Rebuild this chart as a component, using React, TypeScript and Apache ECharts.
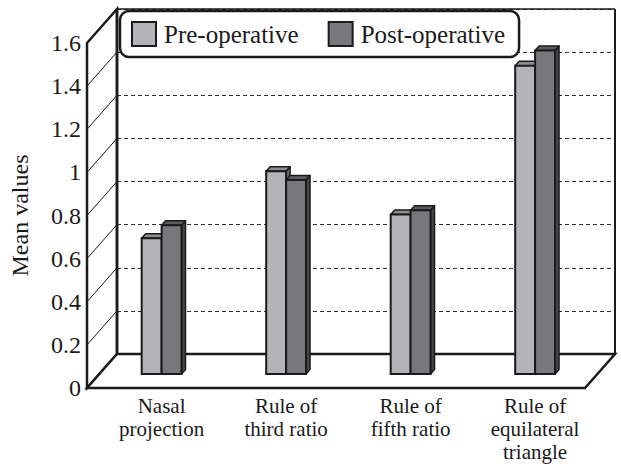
import React, { useEffect, useRef } from "react";
import * as echarts from "echarts";

const categories = [
  "Nasal\nprojection",
  "Rule of\nthird ratio",
  "Rule of\nfifth ratio",
  "Rule of\nequilateral\ntriangle",
];
const preValues = [0.63, 0.94, 0.74, 1.43];
const postValues = [0.69, 0.9, 0.76, 1.5];
const seriesNames = ["Pre-operative", "Post-operative"];
const yMin = 0;
const yMax = 1.6;
const yStep = 0.2;

// layout (pixels)
const CW = 621;
const CH = 466;
const FX0 = 87; // front plane left
const FY0 = 388; // front plane y of value 0
const PW = 498; // plane width
const PH = 345; // plane height (0..1.6)
const DX = 30; // depth offset x (front -> back)
const DY = -34; // depth offset y
const BAR_F = 14 / 34; // bar plane depth fraction from front

const FONT = "Liberation Serif";
const INK = "#1a1a1a";

const colors = {
  pre: { front: "#b4b4b8", top: "#8e8e92", side: "#6c6c70" },
  post: { front: "#78787c", top: "#5c5c60", side: "#464649" },
};

function gridAt(fx: number, fy: number) {
  return {
    left: fx,
    top: fy - PH,
    width: PW,
    height: PH,
    containLabel: false,
  };
}

function makeRender(which: "pre" | "post") {
  const c = colors[which];
  return (params: any, api: any) => {
    const idx = api.value(0);
    const v = api.value(1);
    const top = api.coord([idx, v]);
    const base = api.coord([idx, 0]);
    const band = api.size([1, 0])[0];
    const w = band * 0.16;
    const x0 = which === "pre" ? top[0] - w : top[0];
    const yT = top[1];
    const yB = base[1];
    const dx = 4;
    const dy = 4.5;
    return {
      type: "group",
      children: [
        {
          type: "polygon",
          shape: {
            points: [
              [x0 + w, yT],
              [x0 + w + dx, yT - dy],
              [x0 + w + dx, yB - dy],
              [x0 + w, yB],
            ],
          },
          style: { fill: c.side, stroke: INK, lineWidth: 1.5, lineJoin: "round" },
        },
        {
          type: "polygon",
          shape: {
            points: [
              [x0, yT],
              [x0 + dx, yT - dy],
              [x0 + w + dx, yT - dy],
              [x0 + w, yT],
            ],
          },
          style: { fill: c.top, stroke: INK, lineWidth: 1.5, lineJoin: "round" },
        },
        {
          type: "rect",
          shape: { x: x0, y: yT, width: w, height: yB - yT },
          style: { fill: c.front, stroke: INK, lineWidth: 2 },
        },
      ],
    };
  };
}

export default function App() {
  const ref = useRef<HTMLDivElement>(null);

  useEffect(() => {
    if (!ref.current) return;
    const chart = echarts.init(ref.current, null, { renderer: "svg" });

    const S = PH / (yMax - yMin);
    const bx = FX0 + DX; // back plane left
    const by = FY0 + DY; // back plane zero
    const barX = FX0 + DX * BAR_F;
    const barY = FY0 + DY * BAR_F;

    const graphics: any[] = [];
    // left side wall
    graphics.push({
      type: "polygon",
      z: 1,
      shape: {
        points: [
          [FX0, FY0 - PH],
          [bx, by - PH],
          [bx, by],
          [FX0, FY0],
        ],
      },
      style: { fill: "#ffffff", stroke: INK, lineWidth: 2.5, lineJoin: "miter" },
    });
    // diagonal tick lines on the side wall
    for (let v = yMin + yStep; v < yMax - 1e-9; v += yStep) {
      graphics.push({
        type: "line",
        z: 1,
        shape: { x1: FX0, y1: FY0 - v * S, x2: bx, y2: by - v * S },
        style: { stroke: INK, lineWidth: 1 },
      });
    }
    // floor
    graphics.push({
      type: "polygon",
      z: 1,
      shape: {
        points: [
          [FX0, FY0],
          [bx, by],
          [bx + PW, by],
          [FX0 + PW, FY0],
        ],
      },
      style: { fill: "#ffffff", stroke: INK, lineWidth: 2.5, lineJoin: "miter" },
    });
    // back wall edges
    graphics.push({
      type: "line",
      z: 1,
      shape: { x1: bx, y1: by - PH, x2: bx + PW, y2: by - PH },
      style: { stroke: INK, lineWidth: 1.5 },
    });
    graphics.push({
      type: "line",
      z: 1,
      shape: { x1: bx + PW, y1: by - PH, x2: bx + PW, y2: by },
      style: { stroke: INK, lineWidth: 2 },
    });
    graphics.push({
      type: "line",
      z: 1,
      shape: { x1: bx, y1: by - PH, x2: bx, y2: by },
      style: { stroke: INK, lineWidth: 2.5 },
    });

    const valueAxisBase = {
      type: "value",
      min: yMin,
      max: yMax,
      interval: yStep,
    };

    chart.setOption({
      animation: false,
      backgroundColor: "#ffffff",
      textStyle: { fontFamily: FONT, color: INK },
      grid: [gridAt(bx, by), gridAt(FX0, FY0), gridAt(barX, barY)],
      xAxis: [
        { type: "category", gridIndex: 0, data: categories, show: false },
        { type: "category", gridIndex: 1, data: categories, show: false },
        {
          type: "category",
          gridIndex: 2,
          data: categories,
          axisLine: { show: false },
          axisTick: { show: false },
          axisLabel: {
            interval: 0,
            margin: 20,
            fontFamily: FONT,
            fontSize: 21,
            lineHeight: 23,
            color: INK,
          },
        },
      ],
      yAxis: [
        {
          ...valueAxisBase,
          gridIndex: 0,
          axisLine: { show: false },
          axisTick: { show: false },
          axisLabel: { show: false },
          splitLine: {
            show: true,
            lineStyle: { color: "#333333", width: 1, type: [4, 3] },
          },
        },
        {
          ...valueAxisBase,
          gridIndex: 1,
          name: "Mean values",
          nameLocation: "middle",
          nameGap: 59,
          nameTextStyle: { fontFamily: FONT, fontSize: 24, color: INK },
          axisLine: { show: false },
          axisTick: { show: false },
          splitLine: { show: false },
          axisLabel: {
            margin: 10,
            fontFamily: FONT,
            fontSize: 24,
            color: INK,
          },
        },
        {
          ...valueAxisBase,
          gridIndex: 2,
          show: false,
          splitLine: { show: false },
        },
      ],
      legend: {
        left: 120,
        top: 11,
        orient: "horizontal",
        backgroundColor: "#ffffff",
        borderColor: INK,
        borderWidth: 2.5,
        borderRadius: 9,
        padding: [10, 14, 10, 11],
        itemWidth: 24,
        itemHeight: 24,
        itemGap: 29,
        z: 20,
        textStyle: { fontFamily: FONT, fontSize: 25, color: INK, padding: [0, 0, 0, 3] },
        data: [
          {
            name: seriesNames[0],
            icon: "rect",
            itemStyle: { color: colors.pre.front, borderColor: INK, borderWidth: 2 },
          },
          {
            name: seriesNames[1],
            icon: "rect",
            itemStyle: { color: colors.post.front, borderColor: INK, borderWidth: 2 },
          },
        ],
      },
      graphic: { elements: graphics },
      series: [
        {
          type: "custom",
          name: seriesNames[0],
          xAxisIndex: 2,
          yAxisIndex: 2,
          z: 10,
          itemStyle: { color: colors.pre.front },
          renderItem: makeRender("pre"),
          encode: { x: 0, y: 1 },
          data: preValues.map((v, i) => [i, v]),
        },
        {
          type: "custom",
          name: seriesNames[1],
          xAxisIndex: 2,
          yAxisIndex: 2,
          z: 11,
          itemStyle: { color: colors.post.front },
          renderItem: makeRender("post"),
          encode: { x: 0, y: 1 },
          data: postValues.map((v, i) => [i, v]),
        },
      ],
    });

    return () => chart.dispose();
  }, []);

  return (
    <div
      ref={ref}
      style={{ position: "fixed", left: 0, top: 0, width: CW, height: CH }}
    />
  );
}
